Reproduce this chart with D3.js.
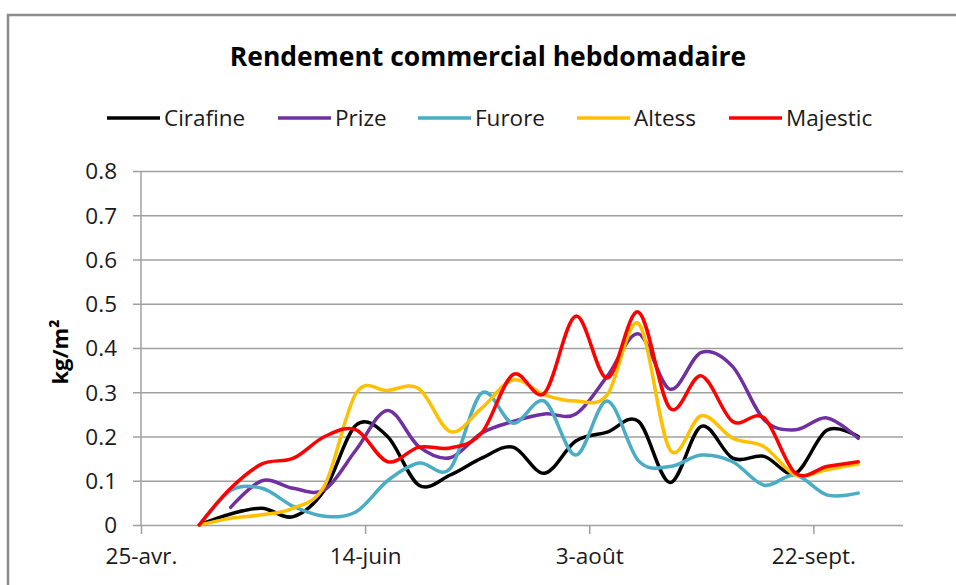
<!DOCTYPE html>
<html>
<head>
<meta charset="utf-8">
<script src="https://cdn.jsdelivr.net/npm/d3@7"></script>
<style>
  body { margin: 0; background: #fff; }
  svg { font-family: "Open Sans", sans-serif; }
</style>
</head>
<body>
<div class="graph"></div>
<script>
// dates des relevés (hebdomadaires)
var dates = ['2013-05-08','2013-05-15','2013-05-22','2013-05-29','2013-06-05','2013-06-12',
             '2013-06-19','2013-06-26','2013-07-03','2013-07-10','2013-07-17','2013-07-24',
             '2013-07-31','2013-08-07','2013-08-14','2013-08-21','2013-08-28','2013-09-04',
             '2013-09-11','2013-09-18','2013-09-25','2013-10-02'];

// rendement kg/m² par variété
var cirafine = [0, 0.025, 0.038, 0.019, 0.08, 0.226, 0.2, 0.09, 0.113, 0.151, 0.176, 0.117,
                0.19, 0.21, 0.234, 0.096, 0.223, 0.151, 0.155, 0.117, 0.214, 0.2];
var prize    = [null, 0.04, 0.10, 0.083, 0.08, 0.17, 0.259, 0.177, 0.152, 0.208, 0.234, 0.251,
                0.251, 0.336, 0.432, 0.307, 0.39, 0.358, 0.238, 0.215, 0.242, 0.196];
var furore   = [0, 0.078, 0.083, 0.042, 0.02, 0.03, 0.10, 0.14, 0.128, 0.298, 0.23, 0.28,
                0.158, 0.28, 0.145, 0.132, 0.158, 0.143, 0.09, 0.113, 0.068, 0.072];
var altess   = [0, 0.015, 0.023, 0.038, 0.09, 0.298, 0.304, 0.308, 0.211, 0.264, 0.328, 0.294,
                0.28, 0.294, 0.455, 0.17, 0.247, 0.196, 0.177, 0.113, 0.125, 0.138];
var majestic = [0, 0.083, 0.138, 0.151, 0.2, 0.215, 0.143, 0.176, 0.174, 0.208, 0.34, 0.298,
                0.472, 0.332, 0.481, 0.264, 0.337, 0.234, 0.242, 0.117, 0.132, 0.143];

var seriesNames = ['Cirafine', 'Prize', 'Furore', 'Altess', 'Majestic'];
var seriesColors = ['#000000', '#7030a0', '#4bacc6', '#ffc000', '#ff0000'];

// axes
var xTickDates = ['2013-04-25', '2013-06-14', '2013-08-03', '2013-09-22'];
var xTickLabels = ['25-avr.', '14-juin', '3-août', '22-sept.'];
var yTicks = [0, 0.1, 0.2, 0.3, 0.4, 0.5, 0.6, 0.7, 0.8];

var parse = d3.timeParse('%Y-%m-%d');
var allValues = [cirafine, prize, furore, altess, majestic];
var series = seriesNames.map(function(name, i){
    return {
        name: name,
        color: seriesColors[i],
        values: dates.map(function(d, j){ return {date: parse(d), v: allValues[i][j]}; })
    };
});

// svg
var w = 956, h = 585;
var svg = d3.select('div.graph').append('svg')
    .attr('width', w).attr('height', h);

// cadre du graphique
svg.append('rect')
    .attr('x', 8).attr('y', 15).attr('width', 1000).attr('height', 700)
    .attr('fill', 'none').attr('stroke', '#8c8c8c').attr('stroke-width', 2.5);

// zone de tracé
var plt = {left: 141, right: 903, top: 171, bottom: 525};

var x = d3.scaleTime()
    .domain([parse('2013-04-25'), parse('2013-10-12')])
    .range([plt.left, plt.right]);
var y = d3.scaleLinear().domain([0, 0.8]).range([plt.bottom, plt.top]);

// grille horizontale + axe y
var yAxis = d3.axisLeft(y).tickValues(yTicks)
    .tickSize(-(plt.right - plt.left + 8)).tickPadding(16);
var yAxisG = svg.append('g')
    .attr('transform', 'translate(' + (plt.left - 8) + ',0)')
    .call(yAxis);
yAxisG.select('.domain').remove();
yAxisG.selectAll('.tick text').attr('x', -16).attr('dy', '0.35em')
    .attr('font-size', 22.5).attr('font-family', '"Open Sans", sans-serif').attr('fill', '#1a1a1a')
    .text(function(d){ return d === 0 ? '0' : d3.format('.1f')(d); });
yAxisG.selectAll('.tick line').attr('stroke', '#a0a0a0').attr('stroke-width', 1.5);

// axe vertical
svg.append('line')
    .attr('x1', plt.left).attr('x2', plt.left)
    .attr('y1', plt.top).attr('y2', plt.bottom)
    .attr('stroke', '#a0a0a0').attr('stroke-width', 1.5);

// axe x
var xAxis = d3.axisBottom(x).tickValues(xTickDates.map(parse))
    .tickSize(9).tickPadding(14)
    .tickFormat(function(d, i){ return xTickLabels[i]; });
var xAxisG = svg.append('g')
    .attr('transform', 'translate(0,' + plt.bottom + ')')
    .call(xAxis);
xAxisG.select('.domain').remove();
xAxisG.selectAll('.tick line').attr('stroke', '#a0a0a0').attr('stroke-width', 1.5);
xAxisG.selectAll('.tick text')
    .attr('font-size', 22.5).attr('font-family', '"Open Sans", sans-serif').attr('fill', '#1a1a1a');

// courbes lissées
var line = d3.line()
    .defined(function(d){ return d.v !== null; })
    .x(function(d){ return x(d.date); })
    .y(function(d){ return y(d.v); })
    .curve(d3.curveCatmullRom.alpha(0));

svg.selectAll('.serie')
    .data(series)
    .enter().append('path')
    .attr('class', 'serie')
    .attr('d', function(d){ return line(d.values); })
    .attr('fill', 'none')
    .attr('stroke', function(d){ return d.color; })
    .attr('stroke-width', 3.5)
    .attr('stroke-linejoin', 'round')
    .attr('stroke-linecap', 'round');

// titre
svg.append('text')
    .attr('x', 488).attr('y', 66)
    .attr('text-anchor', 'middle')
    .attr('font-size', 26.5).attr('font-weight', 'bold')
    .attr('fill', '#000')
    .text('Rendement commercial hebdomadaire');

// titre axe y
svg.append('text')
    .attr('transform', 'translate(68,' + ((plt.top + plt.bottom) / 2 + 4) + ') rotate(-90)')
    .attr('text-anchor', 'middle')
    .attr('font-size', 22).attr('font-weight', 'bold')
    .attr('fill', '#000')
    .text('kg/m²');

// légende
var legendX = [107, 278, 418, 577, 729];
var leg = svg.selectAll('.leg')
    .data(series)
    .enter().append('g')
    .attr('class', 'leg')
    .attr('transform', function(d, i){ return 'translate(' + legendX[i] + ',118)'; });
leg.append('line')
    .attr('x1', 0).attr('x2', 53).attr('y1', 0).attr('y2', 0)
    .attr('stroke', function(d){ return d.color; })
    .attr('stroke-width', 3.5);
leg.append('text')
    .attr('x', 57).attr('dy', '0.35em')
    .attr('font-size', 22.5).attr('fill', '#1a1a1a')
    .text(function(d){ return d.name; });
</script>
</body>
</html>
